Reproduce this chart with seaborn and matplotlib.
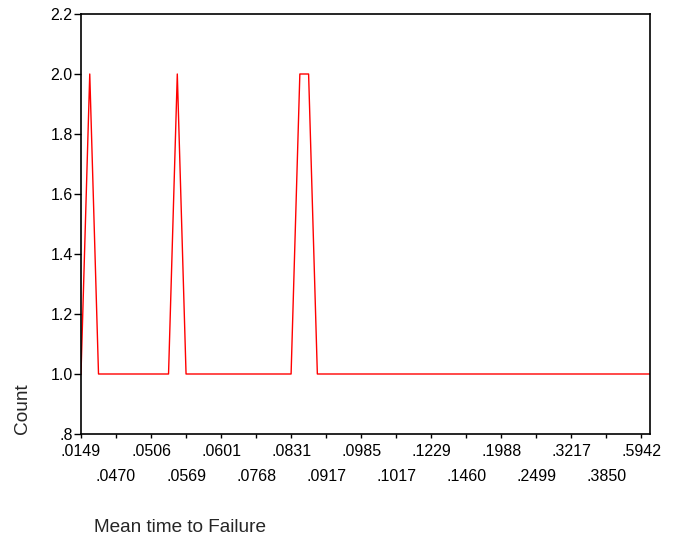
import matplotlib
matplotlib.use("Agg")
import matplotlib.pyplot as plt
import seaborn as sns
import pandas as pd

# Count for each of the 66 categories of "Mean time to Failure" (in axis order)
counts = [1, 2, 1, 1, 1, 1, 1, 1, 1, 1, 1, 2, 1, 1, 1, 1, 1, 1, 1, 1,
          1, 1, 1, 1, 1, 2, 2, 1, 1, 1, 1, 1, 1, 1, 1, 1, 1, 1, 1, 1,
          1, 1, 1, 1, 1, 1, 1, 1, 1, 1, 1, 1, 1, 1, 1, 1, 1, 1, 1, 1,
          1, 1, 1, 1, 1, 1]
# labelled categories (every 4th category)
tick_labels = [".0149", ".0470", ".0506", ".0569", ".0601", ".0768", ".0831",
               ".0917", ".0985", ".1017", ".1229", ".1460", ".1988", ".2499",
               ".3217", ".3850", ".5942"]
y_ticks = [0.8, 1.0, 1.2, 1.4, 1.6, 1.8, 2.0, 2.2]
y_labels = [".8", "1.0", "1.2", "1.4", "1.6", "1.8", "2.0", "2.2"]

df = pd.DataFrame({"cat": list(range(len(counts))), "count": counts})

sns.set_style("white")
plt.rcParams["font.family"] = ["Liberation Sans", "DejaVu Sans"]

fig = plt.figure(figsize=(6.78, 5.38), dpi=100)
ax = fig.add_axes([81 / 678, 1 - 434 / 538, (650 - 81) / 678, (434 - 14) / 538])

sns.lineplot(data=df, x="cat", y="count", ax=ax, color="#FF0000", lw=1.0)

ax.set_xlim(0, len(counts) - 1)
ax.set_ylim(0.8, 2.2)
ax.set_yticks(y_ticks)
ax.set_yticklabels(y_labels, fontsize=11.5)
tick_pos = list(range(0, len(counts), 4))
ax.set_xticks(tick_pos)
ax.set_xticklabels(tick_labels, fontsize=11.5)
ax.tick_params(axis="both", direction="out", width=1, color="black",
               labelcolor="black")
ax.tick_params(axis="x", bottom=True, length=3)
ax.tick_params(axis="y", left=True, length=5, pad=1)
for i, t in enumerate(ax.xaxis.get_major_ticks()):
    t.set_pad(4 if i % 2 == 0 else 22)

for s in ax.spines.values():
    s.set_visible(True)
    s.set_color("black")
    s.set_linewidth(1.2)

ax.set_xlabel("")
ax.set_ylabel("")
fig.text(22 / 678, 1 - 434 / 538, "Count", rotation=90, ha="center", va="bottom",
         fontsize=13.7)
fig.text(94 / 678, 1 - 528 / 538, "Mean time to Failure", ha="left", va="center",
         fontsize=13.7)

fig.savefig("out.png", dpi=100)
